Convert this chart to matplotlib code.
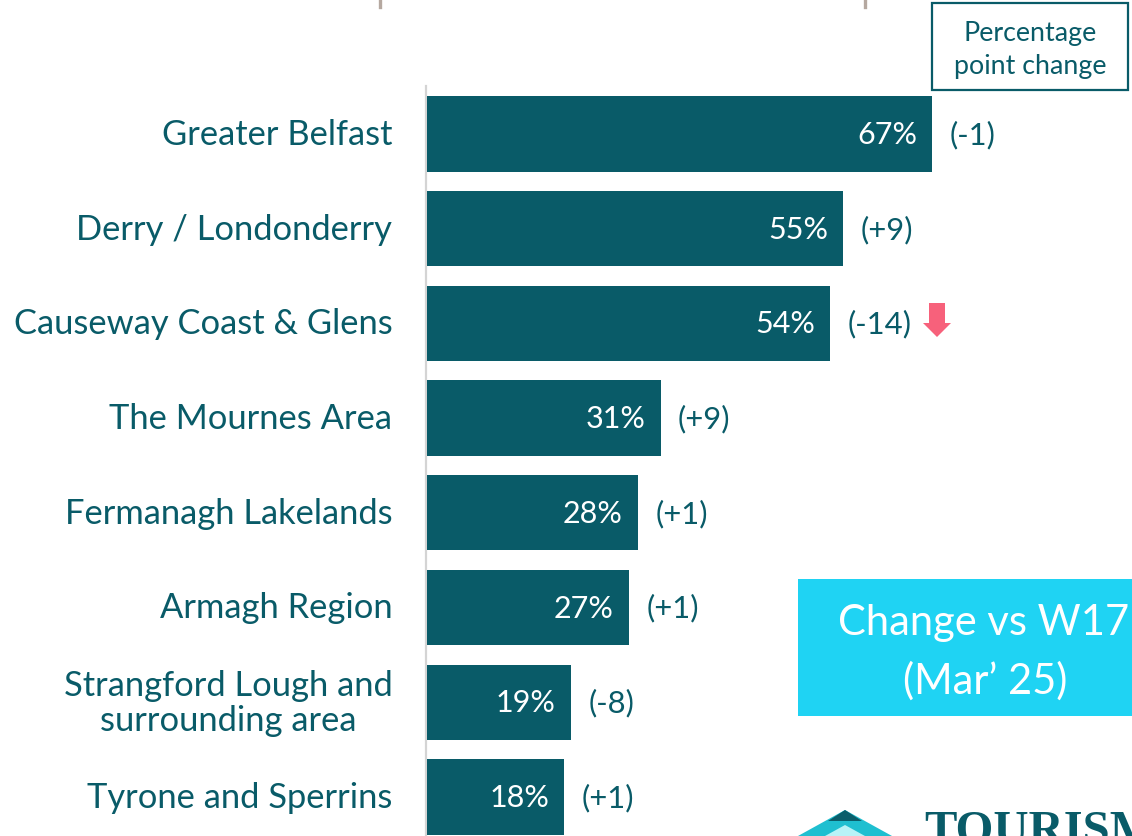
import matplotlib
matplotlib.use("Agg")
import matplotlib.pyplot as plt
from matplotlib.patches import Polygon, Rectangle

regions = ["Greater Belfast", "Derry / Londonderry", "Causeway Coast & Glens",
           "The Mournes Area", "Fermanagh Lakelands", "Armagh Region",
           "Strangford Lough and\nsurrounding area", "Tyrone and Sperrins"]
shares = [67, 55.2, 53.5, 31, 28, 26.8, 19.1, 18.2]
share_labels = ["67%", "55%", "54%", "31%", "28%", "27%", "19%", "18%"]
changes = ["(-1)", "(+9)", "(-14)", "(+9)", "(+1)", "(+1)", "(-8)", "(+1)"]

teal = "#095B68"
cyan = "#1FD3F3"
red = "#F7617B"
W, H = 1132, 837

plt.rcParams["font.family"] = ["Lato", "DejaVu Sans"]
fig = plt.figure(figsize=(W / 100, H / 100), dpi=100)

# bars, scale is 7.54 px per percent, rows are 94.7 px apart
ax = fig.add_axes([427 / W, 0, (W - 427) / W, 1])
ax.set_xlim(0, (W - 427) / 7.54)
ax.set_ylim((H - 135) / 94.7, -135 / 94.7)
ax.axis("off")
ax.barh(range(len(regions)), shares, height=0.795, color=teal, clip_on=False)

for i, region in enumerate(regions):
    ax.annotate(region, (0, i), xytext=(-25, 0), textcoords="offset points",
                ha="right", va="center", ma="center",
                fontsize=24.8, color=teal, linespacing=1.12)
    ax.annotate(share_labels[i], (shares[i], i), xytext=(-11, 0), textcoords="offset points",
                ha="right", va="center", fontsize=22, color="white")
    ax.annotate(changes[i], (shares[i], i), xytext=(12.5, 0), textcoords="offset points",
                ha="left", va="center", fontsize=22.3, color=teal)

# everything else in pixel coordinates
ov = fig.add_axes([0, 0, 1, 1], zorder=-1)
ov2 = fig.add_axes([0, 0, 1, 1], zorder=5)
for a in (ov, ov2):
    a.set_xlim(0, W)
    a.set_ylim(H, 0)
    a.axis("off")
    a.patch.set_alpha(0)

ov.plot([426, 426], [87, H], color="#D4D4D4", lw=1.6)
ov.plot([380, 380], [0, 8], color="#B5A8A0", lw=2.4)
ov.plot([865, 865], [0, 8], color="#B5A8A0", lw=2.4)

ov2.add_patch(Rectangle((932, 4), 196, 87, fc="white", ec=teal, lw=1.6))
ov2.text(1030, 33, "Percentage", ha="center", va="center", fontsize=19.3, color=teal)
ov2.text(1030, 66, "point change", ha="center", va="center", fontsize=19.3, color=teal)

# red arrow next to the -14
ov2.add_patch(Polygon([(929, 304), (945, 304), (945, 324), (951, 324), (937, 338),
                       (923, 324), (929, 324)], fc=red, ec="none"))

ov2.add_patch(Rectangle((798, 580), 334, 137, fc=cyan, ec="none"))
ov2.text(984, 623, "Change vs W17", ha="center", va="center", fontsize=30, color="white")
ov2.text(985, 681, "(Mar\u2019 25)", ha="center", va="center", fontsize=30, color="white")

# logo, cut by the bottom edge
ov2.add_patch(Polygon([(798, 837), (845, 811), (892, 837)], fc="#1FBFD0", ec="none"))
ov2.add_patch(Polygon([(828, 822), (845, 811), (862, 822)], fc="#0B5E6B", ec="none"))
ov2.add_patch(Polygon([(825, 837), (845, 826), (865, 837)], fc="#B8F3F7", ec="none"))
ov2.text(924, 810, "TOURISM", ha="left", va="top", fontsize=35, color=teal,
         fontweight="bold", family="Liberation Serif", clip_on=True)

fig.savefig("out.png", dpi=100)
